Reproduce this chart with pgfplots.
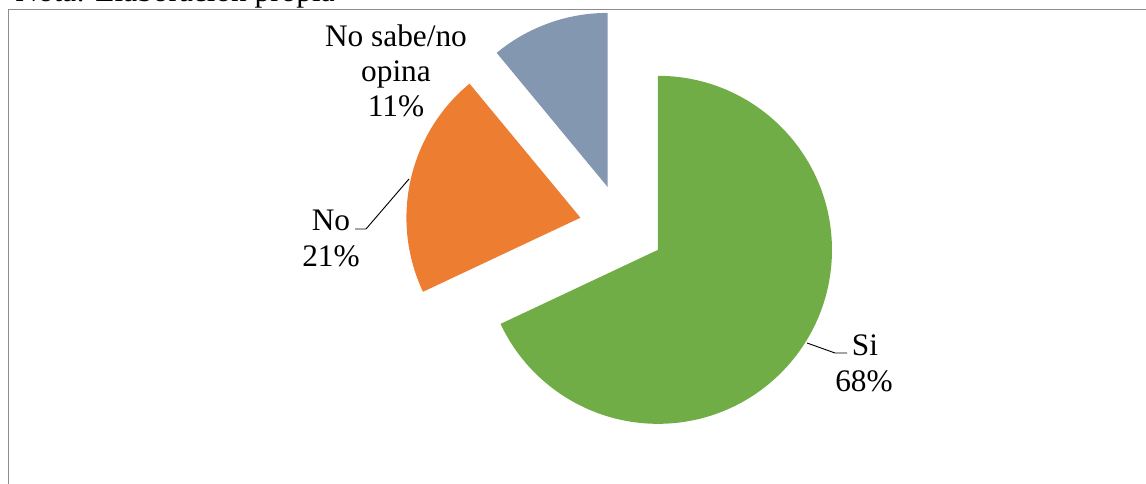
\documentclass[border=0pt]{standalone}
\usepackage{pgfplots}
\pgfplotsset{compat=1.18}
\usetikzlibrary{calc}
\usepackage{fontspec}
\setmainfont{Liberation Serif}
\definecolor{cSi}{HTML}{70AD47}
\definecolor{cNo}{HTML}{ED7D31}
\definecolor{cNs}{HTML}{8497B0}
\definecolor{frame}{HTML}{8C8C8C}
% data (percent)
\def\vSi{68}
\def\vNo{21}
\def\vNs{11}
\begin{document}
\begin{tikzpicture}
\pgfmathsetmacro{\aA}{90}
\pgfmathsetmacro{\aB}{\aA-3.6*\vSi}
\pgfmathsetmacro{\aC}{\aB-3.6*\vNo}
\pgfmathsetmacro{\aD}{\aC-3.6*\vNs}
\pgfmathsetmacro{\mA}{(\aA+\aB)/2}
\pgfmathsetmacro{\mB}{(\aB+\aC)/2}
\pgfmathsetmacro{\mC}{(\aC+\aD)/2}
\begin{axis}[x=0.75pt,y=0.75pt,xmin=0,xmax=1146,ymin=0,ymax=483,
  hide axis, clip=false, anchor=south west, at={(0,0)}]
% frame
\draw[frame, line width=1pt] (axis cs:8.5,-20) -- (axis cs:8.5,473.5) -- (axis cs:1170,473.5);
% slices (explode 42.6 px, radius 174 px)
\fill[cSi] ($(axis cs:622,256)+(\mA:31.95pt)$) -- +(\aA:130.5pt) arc[start angle=\aA,end angle=\aB,radius=130.5pt] -- cycle;
\fill[cNo] ($(axis cs:622,256)+(\mB:31.95pt)$) -- +(\aB:130.5pt) arc[start angle=\aB,end angle=\aC,radius=130.5pt] -- cycle;
\fill[cNs] ($(axis cs:622,256)+(\mC:31.95pt)$) -- +(\aC:130.5pt) arc[start angle=\aC,end angle=\aD,radius=130.5pt] -- cycle;
% leader lines
\draw[black, line width=0.7pt] (axis cs:355,254) -- (axis cs:366,254) -- (axis cs:409,304);
\draw[black, line width=0.7pt] (axis cs:807,140) -- (axis cs:835,130) -- (axis cs:847,130);
% labels
\begin{scope}[every node/.style={inner sep=0pt, font=\fontsize{23.5}{27}\selectfont, anchor=base}]
\node at (axis cs:396,436.3) {No sabe/no};
\node at (axis cs:396,401) {opina};
\node at (axis cs:396,366) {11\%};
\node at (axis cs:331,253) {No};
\node at (axis cs:331,217) {21\%};
\node at (axis cs:865,128) {Si};
\node at (axis cs:864,92) {68\%};
\node[anchor=base east] at (axis cs:335,481) {Nota: Elaboración propia};
\end{scope}
\end{axis}
\pgfresetboundingbox
\path[use as bounding box] (0,0) rectangle (859.5pt,362.25pt);
\end{tikzpicture}
\end{document}
